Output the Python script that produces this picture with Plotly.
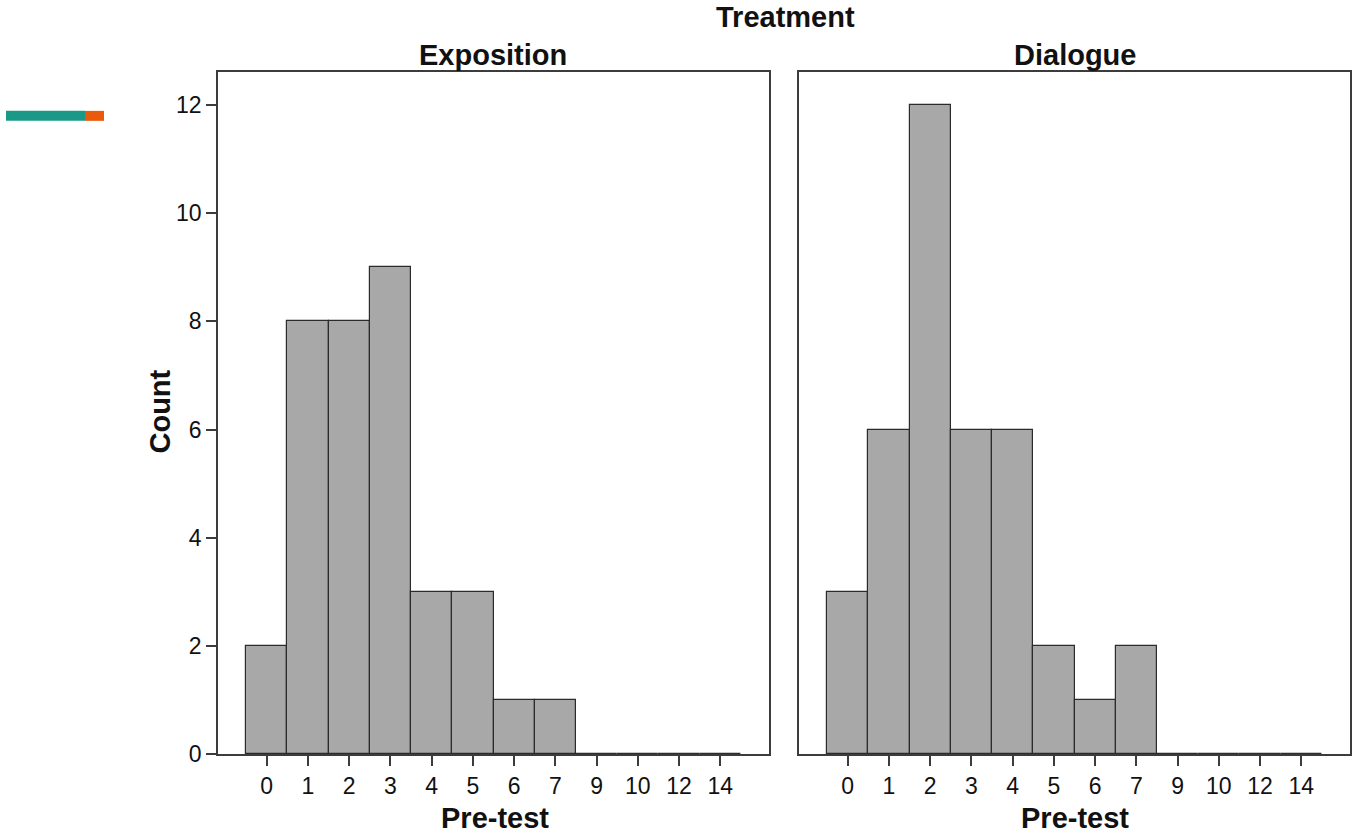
import plotly.graph_objects as go
from plotly.subplots import make_subplots

W, H = 1353, 833      # picture size (pixel targets below are in this frame)
FH = 845              # figure height that lands as H in the photographed picture

categories = ["0", "1", "2", "3", "4", "5", "6", "7", "9", "10", "12", "14"]
exposition_counts = [2, 8, 8, 9, 3, 3, 1, 1, 0, 0, 0, 0]
dialogue_counts = [3, 6, 12, 6, 6, 2, 1, 2, 0, 0, 0, 0]
panel_titles = ["Exposition", "Dialogue"]
y_ticks = [0, 2, 4, 6, 8, 10, 12]

FONT = "Liberation Sans, Arial, Helvetica, sans-serif"
BAR_FILL = "#a8a8a8"
BAR_LINE = "#2b2b2b"
FRAME = "#3c3c3c"

fig = make_subplots(rows=1, cols=2, shared_yaxes=False, horizontal_spacing=0.02)

for i, vals in enumerate([exposition_counts, dialogue_counts]):
    fig.add_trace(
        go.Bar(
            x=categories, y=vals, width=1.0,
            marker=dict(color=BAR_FILL, line=dict(color=BAR_LINE, width=1.2)),
            showlegend=False, hoverinfo="skip",
        ),
        row=1, col=i + 1,
    )

def px_x(p):
    return p / W

def px_y(p):
    return 1 - p / H

x_domains = [[px_x(218), px_x(769)], [px_x(799), px_x(1350)]]
y_domain = [px_y(755), px_y(72)]

common_x = dict(
    type="category", categoryorder="array", categoryarray=categories,
    range=[-1.18, len(categories) - 1 + 1.18],
    showline=True, linecolor=FRAME, linewidth=1.8, mirror=True,
    ticks="outside", ticklen=10, tickwidth=1.5, tickcolor=FRAME,
    tickfont=dict(family=FONT, size=23, color="#111"),
    showgrid=False, zeroline=False, fixedrange=True,
)
fig.update_layout(
    xaxis=dict(domain=x_domains[0], **common_x),
    xaxis2=dict(domain=x_domains[1], **common_x),
    yaxis=dict(
        domain=y_domain, range=[0, 12.61], tickvals=y_ticks,
        showline=True, linecolor=FRAME, linewidth=1.8, mirror=True,
        ticks="outside", ticklen=10, tickwidth=1.5, tickcolor=FRAME,
        tickfont=dict(family=FONT, size=23, color="#111"),
        showgrid=False, zeroline=False, fixedrange=True,
    ),
    yaxis2=dict(
        domain=y_domain, range=[0, 12.61], tickvals=y_ticks,
        showline=True, linecolor=FRAME, linewidth=1.8, mirror=True,
        ticks="", showticklabels=False,
        showgrid=False, zeroline=False, fixedrange=True,
    ),
    bargap=0,
    width=W, height=FH,
    margin=dict(l=0, r=0, t=0, b=0),
    paper_bgcolor="white", plot_bgcolor="white",
)

ann_font = dict(family=FONT, size=29, color="#111")
annotations = [
    dict(text="<b>Treatment</b>", x=px_x(785), y=px_y(17)),
    dict(text="<b>%s</b>" % panel_titles[0], x=px_x(493), y=px_y(55)),
    dict(text="<b>%s</b>" % panel_titles[1], x=px_x(1075), y=px_y(55)),
    dict(text="<b>Pre-test</b>", x=px_x(495), y=px_y(819)),
    dict(text="<b>Pre-test</b>", x=px_x(1075), y=px_y(819)),
    dict(text="<b>Count</b>", x=px_x(160), y=px_y(412), textangle=-90),
]
for a in annotations:
    fig.add_annotation(xref="paper", yref="paper", showarrow=False,
                       xanchor="center", yanchor="middle", font=ann_font, **a)

# decorative colour strip at top-left
fig.add_shape(type="rect", xref="paper", yref="paper",
              x0=px_x(6), x1=px_x(85), y0=px_y(121), y1=px_y(111),
              fillcolor="#1a9988", line=dict(width=0))
fig.add_shape(type="rect", xref="paper", yref="paper",
              x0=px_x(85), x1=px_x(104), y0=px_y(121), y1=px_y(111),
              fillcolor="#ea5a0c", line=dict(width=0))

fig.write_html(
    "out.html",
    config={"displayModeBar": False},
    post_script="document.body.style.margin='0';document.body.style.overflow='hidden';",
)
